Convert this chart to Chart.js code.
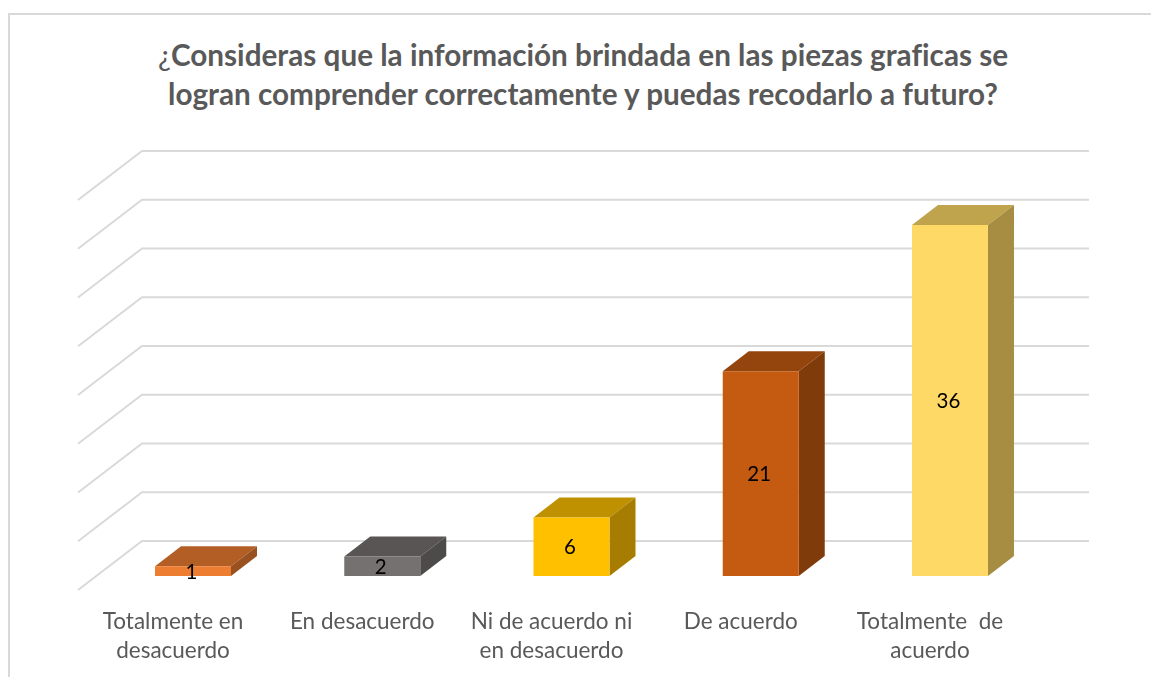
<!DOCTYPE html>
<html>
<head>
<meta charset="utf-8">
<script src="https://cdn.jsdelivr.net/npm/chart.js@4"></script>
<style>
    body { margin: 0; background: #fff; overflow: hidden; }
    #frame { position: absolute; left: 8px; top: 13px; right: 0; bottom: 0; border-left: 2px solid #d9d9d9; border-top: 2px solid #d9d9d9; }
    #title { position: absolute; left: 0; top: 35px; width: 1166px; text-align: center; font: bold 29.7px/39px Lato, sans-serif; font-variant-ligatures: none; color: #595959; }
    #title span { font-weight: normal; }
    canvas { position: absolute; left: 0; top: 0; }
</style>
</head>
<body>
<div id="frame"></div>
<div id="title"><span>¿</span>Consideras que la información brindada en las piezas graficas se<br>logran comprender correctamente y puedas recodarlo a futuro?</div>
<canvas id="chart" width="1151" height="677"></canvas>
<script>
const categories = [
    ['Totalmente en', 'desacuerdo'],
    ['En desacuerdo'],
    ['Ni de acuerdo ni', 'en desacuerdo'],
    ['De acuerdo'],
    ['Totalmente  de', 'acuerdo']
];
const values = [1, 2, 6, 21, 36];
const frontColors = ['#ED7D31', '#767171', '#FFC000', '#C55A11', '#FFD966'];
const topColors = ['#B25E25', '#595555', '#BF9000', '#94440D', '#BFA34D'];
const sideColors = ['#9A5120', '#4D4A4A', '#A67D00', '#803B0B', '#A68D42'];

// depth of the fake 3D box and of the back wall, in pixels
const barDepth = { x: 26, y: -20 };
const wall = { left: 78, back: 142, right: 1089, backUp: 35, frontDown: 14 };

const fake3d = {
    id: 'fake3d',
    beforeDatasetsDraw(chart) {
        const { ctx } = chart;
        const yScale = chart.scales.y;

        // back wall grid lines, with the diagonal going to the front
        ctx.save();
        ctx.strokeStyle = '#d9d9d9';
        ctx.lineWidth = 2;
        yScale.ticks.forEach((tick) => {
            const y = yScale.getPixelForValue(tick.value);
            ctx.beginPath();
            ctx.moveTo(wall.left, y + wall.frontDown);
            ctx.lineTo(wall.back, y - wall.backUp);
            ctx.lineTo(wall.right, y - wall.backUp);
            ctx.stroke();
        });
        ctx.restore();

        // top and side of each bar
        chart.getDatasetMeta(0).data.forEach((bar, index) => {
            const left = bar.x - bar.width / 2;
            const right = bar.x + bar.width / 2;
            ctx.fillStyle = topColors[index];
            ctx.beginPath();
            ctx.moveTo(left, bar.y);
            ctx.lineTo(left + barDepth.x, bar.y + barDepth.y);
            ctx.lineTo(right + barDepth.x, bar.y + barDepth.y);
            ctx.lineTo(right, bar.y);
            ctx.closePath();
            ctx.fill();
            ctx.fillStyle = sideColors[index];
            ctx.beginPath();
            ctx.moveTo(right, bar.y);
            ctx.lineTo(right + barDepth.x, bar.y + barDepth.y);
            ctx.lineTo(right + barDepth.x, bar.base + barDepth.y);
            ctx.lineTo(right, bar.base);
            ctx.closePath();
            ctx.fill();
        });
    },
    afterDatasetsDraw(chart) {
        const { ctx } = chart;
        ctx.save();
        ctx.fillStyle = '#000';
        ctx.font = '20.5px Lato, sans-serif';
        ctx.textAlign = 'center';
        ctx.textBaseline = 'middle';
        chart.getDatasetMeta(0).data.forEach((bar, index) => {
            ctx.fillText(values[index], bar.x - 1.5, (bar.y + bar.base) / 2 + 1);
        });
        ctx.restore();
    }
};

new Chart(document.getElementById('chart'), {
    type: 'bar',
    data: {
        labels: categories,
        datasets: [{
            data: values,
            backgroundColor: frontColors,
            borderWidth: 0,
            categoryPercentage: 1,
            barPercentage: 0.4016
        }]
    },
    options: {
        responsive: false,
        animation: false,
        layout: { padding: { left: 98.4, right: 106.4, top: 186, bottom: 0 } },
        plugins: {
            legend: { display: false },
            tooltip: { enabled: false }
        },
        scales: {
            x: {
                grid: { display: false },
                border: { display: false },
                afterFit: (scale) => { scale.height = 101; },
                ticks: {
                    color: '#595959',
                    font: { family: 'Lato, sans-serif', size: 22.5, lineHeight: 1.31 },
                    labelOffset: -20,
                    maxRotation: 0,
                    autoSkip: false,
                    padding: 23
                }
            },
            y: {
                display: false,
                min: 0,
                max: 40,
                ticks: { stepSize: 5 }
            }
        }
    },
    plugins: [fake3d]
});
</script>
</body>
</html>
